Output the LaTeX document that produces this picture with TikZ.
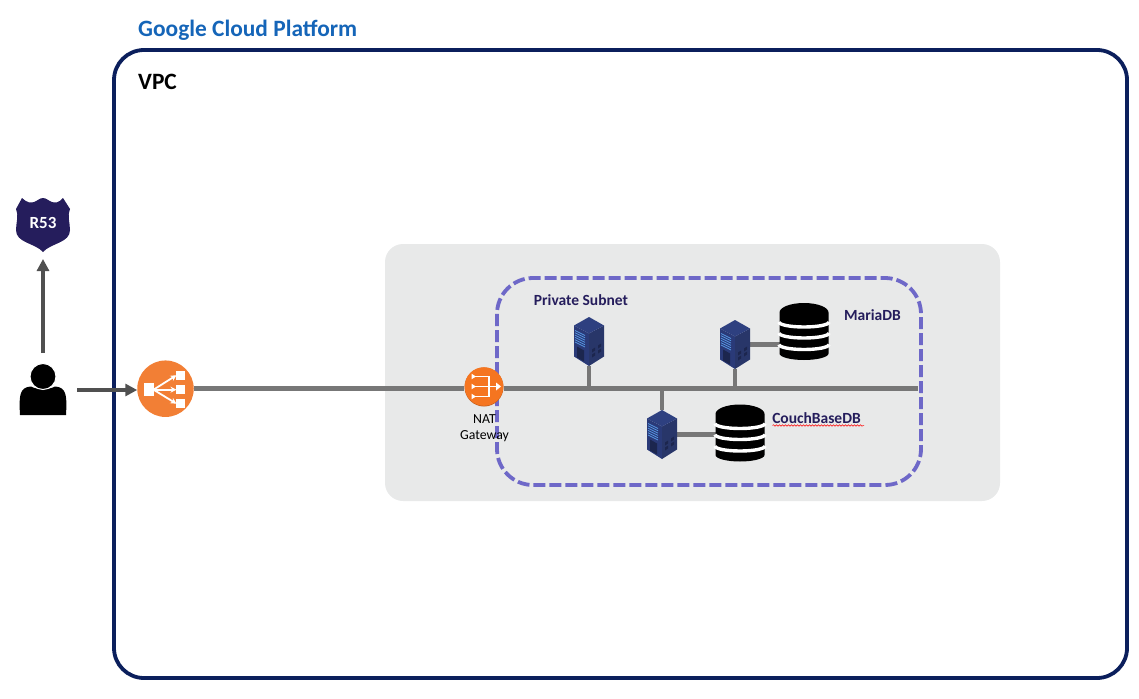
\documentclass[tikz,border=0pt]{standalone}
\usepackage{fontspec}
\setmainfont{Carlito}
\usetikzlibrary{arrows.meta,decorations.pathmorphing}
\definecolor{navyline}{HTML}{0B1F5C}
\definecolor{titleblue}{HTML}{1565B8}
\definecolor{panelgrey}{HTML}{E8E9E9}
\definecolor{subnetline}{HTML}{6E68C8}
\definecolor{labelnavy}{HTML}{251D5C}
\definecolor{arrowgrey}{HTML}{505050}
\definecolor{busgrey}{HTML}{777777}
\definecolor{lborange}{HTML}{F27F35}
\definecolor{natorange}{HTML}{F57520}
\definecolor{natshadow}{HTML}{C25E1E}
\tikzstyle{arrow} = [line width=4pt,arrowgrey,-{Triangle[length=12pt,width=12pt]}]
\tikzstyle{bus} = [line width=5.5pt,busgrey]
\tikzstyle{branch} = [line width=4.5pt,busgrey]
\tikzstyle{iconbox} = [inner sep=0pt,outer sep=0pt]
\tikzstyle{grouplabel} = [font=\bfseries\fontsize{23.4}{28}\selectfont,anchor=west,inner sep=0pt]
\tikzstyle{dblabel} = [font=\bfseries\fontsize{15.5}{18}\selectfont,text=labelnavy,inner sep=0pt]
\tikzset{
  serverpic/.pic={
    \fill[fill={rgb,255:red,42;green,58;blue,120}] (-15,-16) -- (0,-8) -- (0,24.5) -- (-15,15) -- cycle;
    \fill[fill={rgb,255:red,40;green,54;blue,105}] (15,-16) -- (0,-8) -- (0,24.5) -- (15,15) -- cycle;
    \fill[fill={rgb,255:red,46;green,64;blue,128}] (0,-24.5) -- (15,-16) -- (0,-8) -- (-15,-16) -- cycle;
    \foreach \i in {0,...,5}
      \draw[line width=0.8pt,color={rgb,255:red,86;green,150;blue,225}] (-14,-11+2.3*\i) -- (-4,-6+2.3*\i);
    \fill[fill={rgb,255:red,28;green,38;blue,78}] (-12,5) -- (-5,9) -- (-5,20) -- (-12,16) -- cycle;
    \fill[fill={rgb,255:red,28;green,38;blue,78}] (3,13) -- (6,11) -- (6,14) -- (3,16) -- cycle
      (9,9) -- (12,7) -- (12,10) -- (9,12) -- cycle
      (3,8) -- (6,6) -- (6,9) -- (3,11) -- cycle
      (9,4) -- (12,2) -- (12,5) -- (9,7) -- cycle;
  },
  dbpic/.pic={
    \fill[black] (-24.5,-19) arc[start angle=180,end angle=360,x radius=24.5,y radius=9.5]
      -- (24.5,22) arc[start angle=0,end angle=180,x radius=24.5,y radius=6.5] -- cycle;
    \foreach \y in {-9.5,1.5,13}
      \draw[white,line width=3.4pt] (-25,\y) arc[start angle=180,end angle=0,x radius=25,y radius=5];
  },
  userpic/.pic={
    \fill[black] (-23,25) .. controls (-24,7) and (-24,-3) .. (-12,-3.5) .. controls (-6,0) and (6,0) .. (12,-3.5)
      .. controls (24,-3) and (24,7) .. (23,25) -- cycle;
    \draw[fill=black,draw=white,line width=1pt] (0,-13.5) circle (13);
  },
  shieldpic/.pic={
    \fill[labelnavy] (-21,-27) .. controls (-16,-22) and (-12,-22) .. (-9,-23) .. controls (-6,-24) and (-3,-27) .. (0,-27)
      .. controls (3,-27) and (6,-24) .. (9,-23) .. controls (12,-22) and (16,-22) .. (20,-27)
      -- (27,-16) .. controls (24,-10) and (27,-2) .. (27,5) .. controls (27,18) and (8,18) .. (0,27)
      .. controls (-8,18) and (-27,18) .. (-27,5) .. controls (-27,-2) and (-24,-10) .. (-27,-16) -- cycle;
  },
  lbpic/.pic={
    \fill[white] (-22,-6) rectangle (-12,7.5);
    \foreach \y in {-13.5,1,15} {
      \fill[white] (10,\y-4.5) rectangle (19,\y+4.5);
      \draw[white,line width=1.8pt,-{Stealth[length=6pt,width=6pt]}] (-12,1) -- (11,\y);
    }
  },
  natpic/.pic={
    \draw[white,line width=1.4pt] (-9,-10) -- (5,-10) -- (5,10) -- (-9,10) (-9,0) -- (13,0);
    \fill[white] (12,-4) -- (17,0) -- (12,4) -- cycle;
    \foreach \y in {-10,0,10}
      \fill[white] (-12.5,\y-2.8) -- (-8,\y) -- (-12.5,\y+2.8) -- cycle;
  }
}

\begin{document}
\begin{tikzpicture}[x=1pt,y=-1pt]
\useasboundingbox (0,0) rectangle (1139,698);

\draw[navyline,line width=3.8pt,rounded corners=30pt] (114,50) rectangle (1127,678);
\fill[panelgrey,rounded corners=18pt] (385,244) rectangle (1000,501);
\draw[subnetline,line width=3.8pt,dash pattern=on 12pt off 4pt,rounded corners=36pt] (497,278) rectangle (921,485);

\node[grouplabel,text=titleblue] (gcptitle) at (138,30) {Google Cloud Platform};
\node[grouplabel,text=black] (vpctitle) at (138,82) {VPC};

\node[iconbox,minimum width=54pt,minimum height=54pt] (routefiftythree) at (43,225) {};
\node[iconbox,minimum width=46pt,minimum height=50pt] (user) at (43,390) {};
\node[iconbox,circle,fill=lborange,minimum size=56.5pt] (loadbalancer) at (165.5,388.7) {};
\node[iconbox,circle,minimum size=40pt] (natgateway) at (484,386.5) {};
\coordinate (busend) at (918,388.7);
\node[iconbox,minimum width=30pt,minimum height=49pt] (serverone) at (589,341.5) {};
\node[iconbox,minimum width=30pt,minimum height=49pt] (servertwo) at (735,344.5) {};
\node[iconbox,minimum width=30pt,minimum height=49pt] (serverthree) at (662,434.5) {};
\node[iconbox,minimum width=49pt,minimum height=57pt] (mariadbstack) at (804,331.5) {};
\node[iconbox,minimum width=49pt,minimum height=57pt] (couchbasestack) at (740,433) {};

% connectors
\draw[arrow,shorten <=12pt,shorten >=7pt] (user.north) -- (routefiftythree.south);
\draw[arrow,shorten <=11pt] (user.east) -- (user.east -| loadbalancer.west);
\draw[bus] (loadbalancer.east) -- (natgateway.west |- busend);
\draw[bus] (natgateway.east |- busend) -- (busend);
\draw[branch] (serverone.south) -- (serverone.south |- busend);
\draw[branch] (servertwo.south) -- (servertwo.south |- busend);
\draw[branch] (serverthree.north) -- (serverthree.north |- busend);
\draw[branch] (servertwo.east) -- (servertwo.east -| mariadbstack.west);
\draw[branch] (serverthree.east) -- (serverthree.east -| couchbasestack.west);

% icons
\pic at (routefiftythree) {shieldpic};
\node[font=\bfseries\fontsize{17}{20}\selectfont,text=white,iconbox] (routelabel) at (43,223) {R53};
\pic at (user) {userpic};
\pic at (loadbalancer) {lbpic};
\fill[natshadow] (484,387) circle (19.5);
\fill[natorange] (natgateway) circle (19.3);
\pic at (natgateway) {natpic};
\pic at (serverone) {serverpic};
\pic at (servertwo) {serverpic};
\pic at (serverthree) {serverpic};
\pic at (mariadbstack) {dbpic};
\pic at (couchbasestack) {dbpic};

\node[align=center,iconbox,font=\fontsize{13.8}{16}\selectfont] (natlabel) at (484.5,428) {NAT\\Gateway};
\node[dblabel] (privatelabel) at (581,300) {Private Subnet};
\node[dblabel] (mariadblabel) at (872.5,315) {MariaDB};
\node[dblabel] (couchbaselabel) at (816.5,418) {CouchBaseDB};
\draw[red,line width=0.5pt,decorate,decoration={snake,amplitude=0.8pt,segment length=3pt}] (772.5,425.5) -- (864,425.5);
\end{tikzpicture}
\end{document}
